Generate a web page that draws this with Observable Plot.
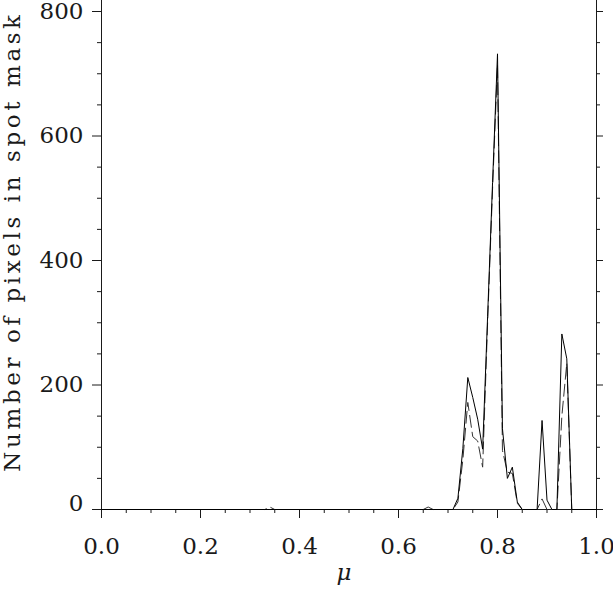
<!DOCTYPE html>
<html>
<head>
<meta charset="utf-8">
<script src="https://cdn.jsdelivr.net/npm/d3@7"></script>
<script src="https://cdn.jsdelivr.net/npm/@observablehq/plot@0.6"></script>
<style>
  html, body { margin: 0; padding: 0; background: #fff; }
</style>
</head>
<body>
<div id="chart"></div>
<script>
// mu bins
const mu = [0.00, 0.33, 0.34, 0.35, 0.65, 0.66, 0.67, 0.71, 0.72, 0.73, 0.74, 0.75, 0.76, 0.77, 0.78, 0.79, 0.80, 0.81, 0.82, 0.83, 0.84, 0.85, 0.88, 0.89, 0.90, 0.91, 0.92, 0.93, 0.94, 0.95, 1.00];
// solid series
const solidCounts = [0, 0, 0, 0, 0, 0, 0, 0, 18, 98, 212, 180, 145, 97, 310, 525, 732, 130, 50, 68, 12, 0, 0, 143, 15, 0, 0, 282, 242, 0, 0];
// dashed series
const dashedCounts = [0, 0, 4, 0, 0, 4, 0, 0, 12, 80, 172, 117, 110, 68, 300, 515, 715, 95, 60, 58, 10, 0, 0, 17, 0, 0, 0, 150, 235, 0, 0];

const xMajor = [0, 0.2, 0.4, 0.6, 0.8, 1.0];
const xMinor = [0.05, 0.1, 0.15, 0.25, 0.3, 0.35, 0.45, 0.5, 0.55, 0.65, 0.7, 0.75, 0.85, 0.9, 0.95];
const yMajor = [0, 200, 400, 600, 800];
const yMinor = [50, 100, 150, 250, 300, 350, 450, 500, 550, 650, 700, 750];
const yLabelTicks = [200, 400, 600, 800];
const yZeroLabel = [0];
const xTitle = "μ";
const yTitle = "Number of pixels in spot mask";

const solidData = mu.map((m, i) => ({mu: m, n: solidCounts[i]}));
const dashedData = mu.map((m, i) => ({mu: m, n: dashedCounts[i]}));

const ink = "#1a1a1a";
const chart = Plot.plot({
  width: 613,
  height: 591,
  marginLeft: 101,
  marginRight: 17,
  marginTop: 11,
  marginBottom: 82,
  style: {fontFamily: "'DejaVu Serif', serif", fontSize: "23px", color: ink, background: "#fff", overflow: "visible"},
  x: {domain: [0, 1]},
  y: {domain: [0, 800]},
  marks: [
    // frame lines
    Plot.ruleX([0, 1], {stroke: ink, strokeWidth: 1, insetTop: -11}),
    Plot.ruleY([0], {stroke: ink, strokeWidth: 1, insetLeft: -9, insetRight: -7}),
    // x ticks
    Plot.axisX(xMajor, {tickSize: 9, fill: "none", stroke: ink, label: null}),
    Plot.axisX(xMinor, {tickSize: 4, fill: "none", stroke: ink, label: null}),
    Plot.axisX(xMajor, {tickSize: 0, tickPadding: 28, tickFormat: d3.format(".1f"), fill: ink, label: null}),
    // left y ticks
    Plot.axisY(yMajor, {anchor: "left", tickSize: 9, fill: "none", stroke: ink, label: null}),
    Plot.axisY(yMinor, {anchor: "left", tickSize: 4, fill: "none", stroke: ink, label: null}),
    Plot.axisY(yLabelTicks, {anchor: "left", tickSize: 0, tickPadding: 18, tickFormat: d3.format("d"), fill: ink, label: null}),
    Plot.text(yZeroLabel, {x: 0, y: d => d, text: d => String(d), textAnchor: "end", dx: -18, dy: -6, fill: ink}),
    // right y ticks
    Plot.axisY(yMajor, {anchor: "right", tickSize: 6, fill: "none", stroke: ink, label: null}),
    Plot.axisY(yMinor, {anchor: "right", tickSize: 3, fill: "none", stroke: ink, label: null}),
    // data
    Plot.line(dashedData, {x: "mu", y: "n", stroke: "#333", strokeWidth: 1, strokeDasharray: "12,5"}),
    Plot.line(solidData, {x: "mu", y: "n", stroke: "#000", strokeWidth: 1}),
    // titles
    Plot.text([xTitle], {frameAnchor: "bottom", dx: -5, dy: 70, fontStyle: "italic", fill: ink}),
    Plot.text([yTitle], {frameAnchor: "left", textAnchor: "middle", lineAnchor: "middle", dx: -89, dy: -19, rotate: -90, fill: ink})
  ]
});
// widen the rotated y title's letter spacing (matches the reference's wide glyph spacing)
d3.select(chart).selectAll("text").filter(function() { return this.textContent === yTitle; })
  .style("letter-spacing", "3.6px");
document.getElementById("chart").appendChild(chart);
</script>
</body>
</html>
